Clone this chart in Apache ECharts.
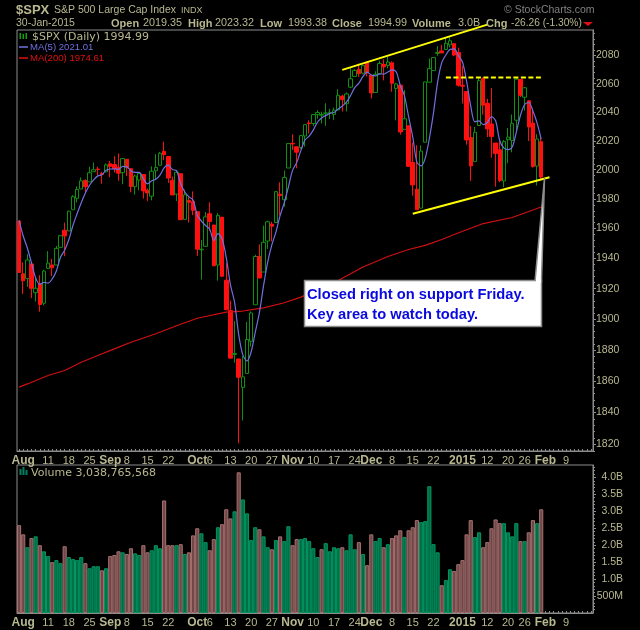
<!DOCTYPE html>
<html>
<head>
<meta charset="utf-8">
<style>html,body{margin:0;background:#000}</style>
<script src="https://cdn.jsdelivr.net/npm/echarts@6/dist/echarts.min.js"></script>
</head>
<body>
<div id="main" style="width:640px;height:630px"></div>
<script>
// trading days Jul 31 2014 - Jan 30 2015
var dates = ['Jul31','Aug1','Aug4','Aug5','Aug6','Aug7','Aug8','Aug11','Aug12','Aug13','Aug14','Aug15','Aug18','Aug19','Aug20','Aug21','Aug22','Aug25','Aug26','Aug27','Aug28','Aug29',
 'Sep2','Sep3','Sep4','Sep5','Sep8','Sep9','Sep10','Sep11','Sep12','Sep15','Sep16','Sep17','Sep18','Sep19','Sep22','Sep23','Sep24','Sep25','Sep26','Sep29','Sep30',
 'Oct1','Oct2','Oct3','Oct6','Oct7','Oct8','Oct9','Oct10','Oct13','Oct14','Oct15','Oct16','Oct17','Oct20','Oct21','Oct22','Oct23','Oct24','Oct27','Oct28','Oct29','Oct30','Oct31',
 'Nov3','Nov4','Nov5','Nov6','Nov7','Nov10','Nov11','Nov12','Nov13','Nov14','Nov17','Nov18','Nov19','Nov20','Nov21','Nov24','Nov25','Nov26','Nov28',
 'Dec1','Dec2','Dec3','Dec4','Dec5','Dec8','Dec9','Dec10','Dec11','Dec12','Dec15','Dec16','Dec17','Dec18','Dec19','Dec22','Dec23','Dec24','Dec26','Dec29','Dec30','Dec31',
 'Jan2','Jan5','Jan6','Jan7','Jan8','Jan9','Jan12','Jan13','Jan14','Jan15','Jan16','Jan20','Jan21','Jan22','Jan23','Jan26','Jan27','Jan28','Jan29','Jan30',
 'Feb2','Feb3','Feb4','Feb5','Feb6','Feb9','Feb10','Feb11','Feb12','Feb13','Feb17','Feb18'];

var tickLabels = {Aug1:'Aug',Aug11:'11',Aug18:'18',Aug25:'25',Sep2:'Sep',Sep8:'8',Sep15:'15',Sep22:'22',Oct1:'Oct',Oct6:'6',Oct13:'13',Oct20:'20',Oct27:'27',
 Nov3:'Nov',Nov10:'10',Nov17:'17',Nov24:'24',Dec1:'Dec',Dec8:'8',Dec15:'15',Dec22:'22',Jan2:'2015',Jan12:'12',Jan20:'20',Jan26:'26',Feb2:'Feb',Feb9:'9'};
var boldTicks = ['Aug','Sep','Oct','Nov','Dec','2015','Feb'];

var opens = [1965.1,1929.8,1926.6,1936.3,1917.3,1923.0,1910.4,1933.4,1935.7,1935.6,1947.4,1958.9,1958.4,1972.7,1980.5,1986.8,1992.6,1991.7,1998.6,2000.5,1997.4,1998.5,
 2004.1,2003.6,2001.7,1998.0,2007.2,2000.7,1988.4,1992.9,1996.7,1986.0,1981.9,1999.3,2003.1,2012.7,2009.1,1992.8,1983.3,1997.3,1966.2,1979.0,1978.2,
 1971.4,1945.8,1948.1,1970.0,1962.4,1935.6,1967.7,1925.6,1905.7,1877.1,1874.2,1856.0,1864.9,1885.6,1909.4,1941.3,1931.0,1951.6,1963.0,1964.1,1983.3,1979.5,2001.2,
 2018.2,2015.8,2015.3,2023.3,2032.4,2032.0,2038.2,2037.8,2039.2,2039.7,2038.3,2041.5,2051.2,2045.9,2057.5,2065.1,2070.2,2067.4,2074.8,
 2065.8,2053.8,2067.0,2073.6,2072.8,2074.8,2056.6,2058.9,2027.9,2030.4,2005.0,1986.7,1973.8,2019.0,2061.0,2069.3,2081.5,2083.3,2084.3,2087.6,2088.5,2082.1,
 2058.9,2054.4,2022.2,2005.6,2030.6,2063.5,2046.1,2031.6,2018.4,2013.8,1992.3,2020.8,2020.2,2034.3,2063.0,2050.4,2047.9,2032.3,2002.5,2019.35];
var highs = [1965.1,1937.4,1942.9,1936.3,1927.9,1928.9,1932.4,1944.9,1939.7,1948.4,1955.2,1964.0,1972.0,1982.6,1988.6,1994.8,1993.5,2002.0,2005.0,2002.1,1998.6,2004.3,
 2006.1,2009.3,2011.2,2007.7,2007.2,2001.0,1996.7,1997.7,1996.7,1987.2,2002.3,2010.7,2012.3,2019.3,2009.1,1995.4,1999.8,1997.3,1986.4,1981.3,1985.2,
 1971.4,1952.3,1971.2,1977.8,1962.4,1970.4,1967.7,1937.0,1912.1,1898.7,1874.2,1876.0,1898.2,1905.0,1942.5,1949.3,1962.0,1965.3,1964.6,1985.1,1991.4,1999.4,2018.2,
 2024.5,2016.0,2023.8,2031.6,2034.3,2038.7,2041.3,2040.3,2046.2,2042.2,2043.1,2056.1,2052.1,2053.8,2071.5,2070.2,2074.2,2073.3,2075.8,
 2065.8,2068.8,2076.3,2077.3,2079.5,2075.8,2060.6,2058.9,2055.5,2030.4,2018.7,2016.9,2016.8,2061.2,2077.9,2078.8,2086.7,2087.6,2092.7,2093.6,2088.5,2085.6,
 2072.4,2054.4,2030.3,2029.6,2064.1,2064.4,2049.3,2056.9,2018.4,2021.4,2020.5,2028.9,2038.3,2064.6,2063.0,2057.6,2047.9,2042.5,2024.6,2023.32];
var lows = [1930.7,1916.4,1921.2,1913.8,1911.5,1904.8,1909.0,1933.4,1928.3,1935.6,1947.4,1941.5,1958.4,1972.7,1977.7,1986.8,1984.8,1991.7,1998.6,1996.2,1990.5,1998.5,
 1994.9,1998.1,1992.5,1990.1,1995.6,1984.6,1983.0,1985.9,1980.3,1978.5,1979.1,1993.3,2003.1,2006.6,1991.0,1982.8,1978.6,1966.0,1966.2,1964.0,1969.0,
 1941.7,1926.0,1948.1,1958.4,1934.9,1925.3,1927.6,1906.1,1874.1,1871.8,1820.7,1835.0,1864.9,1882.3,1909.4,1926.8,1931.0,1946.3,1951.4,1964.1,1969.0,1974.8,2001.2,
 2013.7,2001.0,2014.4,2015.9,2025.1,2030.2,2035.3,2032.0,2030.4,2035.2,2034.5,2041.5,2040.4,2040.5,2056.8,2065.1,2064.8,2066.6,2065.1,
 2049.6,2053.8,2066.7,2062.3,2070.8,2054.3,2034.2,2024.3,2027.9,2002.3,1982.3,1972.6,1973.8,2019.0,2061.0,2069.3,2079.8,2081.9,2084.3,2085.8,2079.5,2057.9,
 2046.0,2017.3,1992.4,2005.6,2030.6,2038.3,2022.6,2008.3,1988.4,1991.5,1988.1,2004.5,2012.0,2026.4,2050.5,2041.0,2019.9,2001.5,1989.2,1993.38];
var closes = [1930.67,1925.15,1938.99,1920.21,1920.24,1909.57,1931.59,1936.92,1933.75,1946.72,1955.18,1955.06,1971.74,1981.60,1986.51,1992.37,1988.40,1997.92,2000.02,2000.12,1996.74,2003.37,
 2002.28,2000.72,1997.65,2007.71,2001.54,1988.44,1995.69,1997.45,1985.54,1984.13,1998.98,2001.57,2011.36,2010.40,1994.29,1982.77,1998.30,1965.99,1982.85,1977.80,1972.29,
 1946.16,1946.17,1967.90,1964.82,1935.10,1968.89,1928.21,1906.13,1874.74,1877.70,1862.49,1862.76,1886.76,1904.01,1941.28,1927.11,1950.82,1964.58,1961.63,1985.05,1982.30,1994.65,2018.05,
 2017.81,2012.10,2023.57,2031.21,2031.92,2038.26,2039.68,2038.25,2039.33,2039.82,2041.32,2051.80,2048.72,2052.75,2063.50,2069.41,2067.03,2072.83,2067.56,
 2053.44,2066.55,2074.33,2071.92,2075.37,2060.31,2059.82,2026.14,2035.33,2002.33,1989.63,1972.74,2012.89,2061.23,2070.65,2078.54,2082.17,2081.88,2088.77,2090.57,2080.35,2058.90,
 2058.20,2020.58,2002.61,2025.90,2062.14,2044.81,2028.26,2023.03,2011.27,1992.67,2019.42,2022.55,2032.12,2063.15,2051.82,2057.09,2029.55,2002.16,2021.25,1994.99];

var ma5 = [1965.6,1955.0,1947.0,1937.0,1927.1,1922.8,1924.1,1923.7,1926.4,1931.7,1940.8,1945.5,1952.5,1962.1,1970.0,1977.5,1984.1,1989.4,1993.0,1995.8,1996.6,1999.6,
 2000.5,2000.6,2000.2,2002.3,2002.0,1999.2,1998.2,1998.2,1993.7,1990.3,1992.4,1993.5,1996.3,2001.3,2003.3,2000.1,1999.4,1990.4,1984.8,1981.5,1979.4,
 1969.0,1965.1,1962.1,1959.5,1952.0,1956.6,1953.0,1940.6,1922.6,1911.1,1889.9,1876.8,1872.9,1878.7,1891.5,1904.4,1922.0,1937.6,1949.1,1957.8,1968.9,1977.6,1988.3,
 1999.6,2005.0,2013.2,2020.5,2023.3,2027.4,2032.9,2035.9,2037.5,2039.1,2039.7,2042.1,2044.2,2046.9,2051.6,2057.2,2060.3,2065.1,2068.1,
 2066.1,2065.5,2066.9,2066.8,2068.3,2069.7,2068.4,2058.7,2051.4,2036.8,2022.7,2005.2,2002.6,2007.8,2021.4,2039.2,2061.1,2074.9,2080.4,2084.4,2084.7,2080.1,
 2075.4,2061.7,2044.1,2033.2,2033.9,2031.2,2032.7,2036.8,2033.9,2020.0,2014.9,2013.8,2015.6,2026.0,2037.8,2045.3,2046.7,2040.8,2032.4,2021.01];

// MA(200) at these bars
var ma200Bars = [0,2,7,11,15,19,23,27,33,38,43,50,54,59,64,68,77,83,89,94,98,102,105,112,119,125,126];
var ma200Vals = [1856.2,1858.2,1863.6,1866.8,1872.1,1876.4,1880.7,1885.0,1890.5,1895.7,1900.6,1904.6,1905.3,1907.4,1910.7,1914.4,1925.4,1934.3,1941.3,1946.0,1948.7,1952.7,1956.0,1963.4,1967.5,1973.6,1974.61];

// volume in billions
var volumes = [2.59,2.32,1.94,2.21,2.26,2.00,1.82,1.68,1.50,1.56,1.47,1.97,1.65,1.59,1.56,1.65,1.47,1.32,1.38,1.38,1.26,1.32,
 1.68,1.71,1.82,1.79,1.74,1.91,1.76,1.71,2.00,1.79,1.85,2.00,1.91,3.32,2.00,2.00,2.00,2.03,1.74,1.79,2.29,
 2.50,2.35,2.09,1.85,2.18,2.53,2.62,3.06,2.79,3.00,4.15,3.35,2.94,2.15,2.53,2.47,2.26,1.94,1.88,2.15,2.26,2.12,2.56,
 2.00,2.18,2.18,2.21,2.12,1.91,1.65,1.88,2.06,1.82,1.94,1.91,1.94,1.85,2.32,1.88,2.09,1.74,1.41,
 2.32,2.12,2.21,1.94,2.03,2.21,2.29,2.44,2.24,2.44,2.53,2.74,2.68,2.71,3.74,2.03,1.79,0.82,0.97,1.29,1.24,1.44,1.56,
 2.32,2.74,2.24,2.38,1.94,2.09,2.50,2.76,2.65,2.65,2.38,2.26,2.65,2.12,2.12,2.38,2.74,2.65,3.06];

var priceTicks = [1820,1840,1860,1880,1900,1920,1940,1960,1980,2000,2020,2040,2060,2080];
var priceMinorTicks = [];
for (var p = 1816; p <= 2096; p += 4) { priceMinorTicks.push(p); }
var volumeTicks = [0.5,1,1.5,2,2.5,3,3.5,4];

// trend lines drawn on the chart, [bar, price]
var upperTrend = [[78, 2069.8], [113, 2102.2]];
var lowerTrend = [[95, 1970.0], [128, 1994.9]];
var resistance = [[103, 2064.4], [126, 2064.4]];

var TAN = '#b8b890';
var AXIS = '#8c8c8c';
var FONT = '"Liberation Sans", Arial, sans-serif';
var WIDE = '"DejaVu Sans", sans-serif';
var GRID_L = 17, GRID_W = 576;

var candles = closes.map(function (c, i) { return [opens[i], c, lows[i], highs[i]]; });
var volData = volumes.map(function (v, i) {
    var down = i === 0 || closes[i] < closes[i - 1];
    return { value: v, itemStyle: { color: down ? '#704848' : '#006e48', borderColor: down ? '#a87070' : '#009860' } };
});

function xAxisFor(gridIndex) {
    return {
        type: 'category', gridIndex: gridIndex, data: dates, boundaryGap: true,
        axisLine: { lineStyle: { color: AXIS } },
        axisTick: { show: true, interval: 0, length: 2, inside: true, alignWithLabel: true, lineStyle: { color: AXIS } },
        axisLabel: {
            interval: function (i, v) { return !!tickLabels[v]; },
            hideOverlap: false, margin: 4, color: TAN, fontFamily: FONT, fontSize: 11,
            formatter: function (v) {
                var t = tickLabels[v];
                return boldTicks.indexOf(t) >= 0 ? '{b|' + t + '}' : t;
            },
            rich: { b: { fontWeight: 'bold', fontSize: 12, color: TAN, fontFamily: FONT } }
        },
        splitLine: { show: false }
    };
}

function txt(x, y, s, color, size, weight, family) {
    return {
        type: 'text', silent: true, z: 110,
        style: { x: x, y: y, text: s, fill: color, font: (weight || 'normal') + ' ' + size + 'px ' + (family || FONT), verticalAlign: 'middle' }
    };
}

var chart = echarts.init(document.getElementById('main'));
chart.setOption({
    animation: false,
    backgroundColor: '#000',
    grid: [
        { left: GRID_L, top: 30, width: GRID_W, height: 421, show: true, borderColor: AXIS, backgroundColor: '#000' },
        { left: GRID_L, top: 465, width: GRID_W, height: 148, show: true, borderColor: AXIS, backgroundColor: '#000' }
    ],
    xAxis: [xAxisFor(0), xAxisFor(1)],
    yAxis: [
        {
            type: 'log', gridIndex: 0, position: 'right', min: 1815.9, max: 2098.3, logBase: 10,
            axisLine: { show: true, lineStyle: { color: AXIS } },
            axisTick: { show: true, length: 2, customValues: priceMinorTicks, lineStyle: { color: AXIS } },
            axisLabel: { show: false }, splitLine: { show: false }
        },
        {
            type: 'log', gridIndex: 0, position: 'right', min: 1815.9, max: 2098.3, logBase: 10,
            axisLine: { show: true, lineStyle: { color: AXIS } },
            axisTick: { show: true, length: 3, customValues: priceTicks, lineStyle: { color: AXIS } },
            axisLabel: {
                customValues: priceTicks, color: TAN, fontFamily: FONT, fontSize: 10.5, margin: 3, align: 'left',
                formatter: function (v) { return String(Math.round(v)); }
            },
            splitLine: { show: false }
        },
        {
            type: 'value', gridIndex: 1, position: 'right', min: 0, max: 4.366, interval: 0.5,
            axisLine: { show: true, lineStyle: { color: AXIS } },
            axisTick: { show: true, length: 3, customValues: volumeTicks, lineStyle: { color: AXIS } },
            minorTick: { show: true, splitNumber: 5, length: 2, lineStyle: { color: AXIS } },
            axisLabel: {
                customValues: volumeTicks, color: TAN, fontFamily: FONT, fontSize: 10.5, margin: 30, align: 'right',
                formatter: function (v) { return v === 0.5 ? '500M' : v.toFixed(1) + 'B'; }
            },
            splitLine: { show: false }
        }
    ],
    series: [
        {
            name: 'SPX', type: 'candlestick', xAxisIndex: 0, yAxisIndex: 0, data: candles, barWidth: 4,
            itemStyle: { color: '#000', color0: '#ff1010', borderColor: '#109010', borderColor0: '#ff1010', borderWidth: 1 }
        },
        {
            name: 'MA(200)', type: 'line', xAxisIndex: 0, yAxisIndex: 0, symbol: 'none',
            data: ma200Bars.map(function (b, i) { return [b, ma200Vals[i]]; }),
            lineStyle: { color: '#d01010', width: 1.2 }, z: 3
        },
        {
            name: 'MA(5)', type: 'line', xAxisIndex: 0, yAxisIndex: 0, symbol: 'none', data: ma5, smooth: 0.3,
            lineStyle: { color: '#7070e0', width: 1.2 }, z: 4
        },
        {
            name: 'upper', type: 'line', xAxisIndex: 0, yAxisIndex: 0, symbol: 'none', data: upperTrend, clip: false,
            lineStyle: { color: '#ffff00', width: 2 }, z: 5
        },
        {
            name: 'lower', type: 'line', xAxisIndex: 0, yAxisIndex: 0, symbol: 'none', data: lowerTrend, clip: false,
            lineStyle: { color: '#ffff00', width: 2 }, z: 5
        },
        {
            name: 'resistance', type: 'line', xAxisIndex: 0, yAxisIndex: 0, symbol: 'none', data: resistance, clip: false,
            lineStyle: { color: '#ffff00', width: 2, type: [5, 2.5] }, z: 5
        },
        {
            name: 'Volume', type: 'bar', xAxisIndex: 1, yAxisIndex: 2, data: volData, barWidth: '100%',
            itemStyle: { borderWidth: 1 }
        }
    ],
    graphic: [
        txt(16, 10.5, '$SPX', TAN, 13, 'bold'),
        txt(54, 10.5, 'S&P 500 Large Cap Index', TAN, 10.5),
        txt(181, 10.5, 'INDX', TAN, 9),
        txt(504, 10.5, '© StockCharts.com', '#808080', 10.5),
        txt(16, 23.5, '30-Jan-2015', TAN, 10.5),
        txt(111, 23.5, 'Open', TAN, 11, 'bold'), txt(143, 23.5, '2019.35', TAN, 10.8),
        txt(188, 23.5, 'High', TAN, 11, 'bold'), txt(215, 23.5, '2023.32', TAN, 10.8),
        txt(260, 23.5, 'Low', TAN, 11, 'bold'), txt(288, 23.5, '1993.38', TAN, 10.8),
        txt(332, 23.5, 'Close', TAN, 11, 'bold'), txt(368, 23.5, '1994.99', TAN, 10.8),
        txt(412, 23.5, 'Volume', TAN, 11, 'bold'), txt(458, 23.5, '3.0B', TAN, 10.8),
        txt(486, 23.5, 'Chg', TAN, 11, 'bold'), txt(511, 23.5, '-26.26 (-1.30%)', TAN, 10.2),
        { type: 'polygon', silent: true, z: 110, shape: { points: [[583, 22], [593, 22], [588, 26]] }, style: { fill: '#e01010' } },
        txt(32, 37, '$SPX (Daily) 1994.99', TAN, 11, 'normal', WIDE),
        { type: 'rect', silent: true, z: 110, shape: { x: 19.5, y: 33, width: 1.5, height: 6 }, style: { fill: '#10a010' } },
        { type: 'rect', silent: true, z: 110, shape: { x: 22.5, y: 34, width: 1.5, height: 5 }, style: { fill: '#10a010' } },
        { type: 'rect', silent: true, z: 110, shape: { x: 25.5, y: 33, width: 1.5, height: 6 }, style: { fill: '#10a010' } },
        { type: 'line', silent: true, z: 110, shape: { x1: 19, y1: 47, x2: 28, y2: 47 }, style: { stroke: '#7070e0', lineWidth: 1.5 } },
        txt(30, 47.5, 'MA(5) 2021.01', '#7070e0', 9.6),
        { type: 'line', silent: true, z: 110, shape: { x1: 19, y1: 58, x2: 28, y2: 58 }, style: { stroke: '#e01010', lineWidth: 1.5 } },
        txt(30, 58.5, 'MA(200) 1974.61', '#e01010', 9.6),
        { type: 'rect', silent: true, z: 110, shape: { x: 19.5, y: 469, width: 2, height: 6 }, style: { fill: '#008060' } },
        { type: 'rect', silent: true, z: 110, shape: { x: 22.5, y: 467, width: 2, height: 8 }, style: { fill: '#008060' } },
        { type: 'rect', silent: true, z: 110, shape: { x: 25.5, y: 470, width: 2, height: 5 }, style: { fill: '#008060' } },
        txt(31, 473, 'Volume 3,038,765,568', TAN, 11, 'normal', WIDE),
        // callout with pointer at the last close
        { type: 'polygon', silent: true, z: 101, shape: { points: [[535, 281.5], [544.5, 178], [541.5, 281.5]] }, style: { fill: '#fff', stroke: AXIS, lineWidth: 1.5 } },
        { type: 'rect', silent: true, z: 102, shape: { x: 304.5, y: 280.5, width: 237, height: 46 }, style: { fill: '#fff', stroke: AXIS, lineWidth: 1.5 } },
        { type: 'rect', silent: true, z: 103, shape: { x: 536, y: 279, width: 5, height: 4 }, style: { fill: '#fff' } },
        txt(307, 295, 'Closed right on support Friday.', '#0a0ae0', 14.7, 'bold'),
        txt(307, 315, 'Key area to watch today.', '#0a0ae0', 14.7, 'bold')
    ]
});
</script>
</body>
</html>
